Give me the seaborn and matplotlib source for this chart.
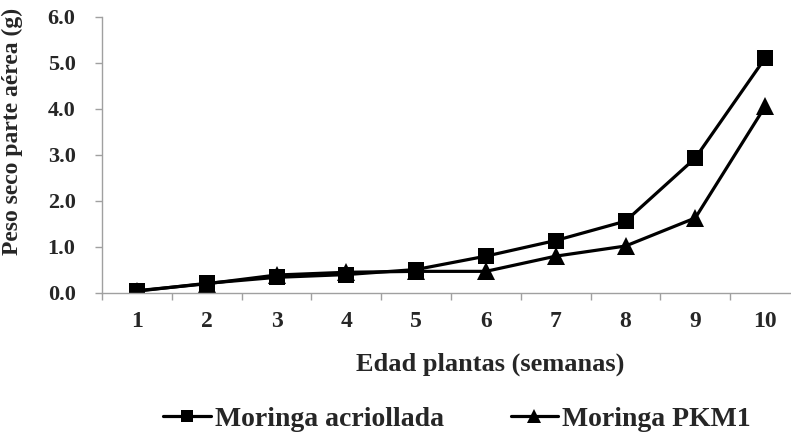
import matplotlib
matplotlib.use("Agg")
import matplotlib.pyplot as plt
import seaborn as sns
import pandas as pd
import numpy as np
from matplotlib.lines import Line2D

weeks = [1, 2, 3, 4, 5, 6, 7, 8, 9, 10]
acriollada = [0.04, 0.21, 0.34, 0.40, 0.51, 0.80, 1.14, 1.56, 2.93, 5.10]
pkm1 = [0.05, 0.20, 0.39, 0.45, 0.47, 0.47, 0.80, 1.02, 1.63, 4.05]
series_names = ["Moringa acriollada", "Moringa PKM1"]
y_ticks = [0, 1, 2, 3, 4, 5, 6]

df = pd.DataFrame({
    "week": weeks * 2,
    "peso": acriollada + pkm1,
    "serie": [series_names[0]] * len(weeks) + [series_names[1]] * len(weeks),
})

sns.set_theme(style="white")
plt.rcParams["font.family"] = ["Liberation Serif", "DejaVu Serif"]
plt.rcParams["font.weight"] = "bold"

fig = plt.figure(figsize=(7.91, 4.40), dpi=100)
L, R, B, T = 102 / 791, 800 / 791, 1 - 293 / 440, 1 - 16.7 / 440
ax = fig.add_axes([L, B, R - L, T - B])

markers = {series_names[0]: "s", series_names[1]: "^"}
sizes = {series_names[0]: 12, series_names[1]: 12.5}
# draw PKM1 first so acriollada squares sit on top
for name in [series_names[1], series_names[0]]:
    sub = df[df["serie"] == name]
    sns.lineplot(data=sub, x="week", y="peso", ax=ax, color="black",
                 linewidth=2.3, marker=markers[name], markersize=sizes[name],
                 markeredgewidth=0, legend=False)

ax.set_xlim(0.5, 10.5)
ax.set_ylim(0, 6)

gray = "#a0a0a0"
for s in ["top", "right"]:
    ax.spines[s].set_visible(False)
for s in ["left", "bottom"]:
    ax.spines[s].set_color(gray)
    ax.spines[s].set_linewidth(1.0)

ax.set_yticks(y_ticks)
ax.set_yticklabels([f"{v:.1f}" for v in y_ticks], fontsize=16, fontweight="bold")
ax.tick_params(axis="y", direction="out", length=5, width=1, color=gray, pad=14, left=True)

ax.set_xticks(weeks)
ax.set_xticklabels([str(w) for w in weeks], fontsize=17, fontweight="bold")
ax.set_xticks(np.arange(0.5, 11, 1.0), minor=True)
ax.tick_params(axis="x", which="major", length=0, pad=13, bottom=True)
ax.tick_params(axis="x", which="minor", direction="out", length=5, width=1, color=gray, bottom=True)
ax.grid(False)

ax.set_xlabel("Edad plantas (semanas)", fontsize=19, fontweight="bold")
ax.xaxis.set_label_coords((490 - 102) / 698, (293 - 353) / 276.3)
ax.set_ylabel("Peso seco parte aérea (g)", fontsize=17, fontweight="bold")
ax.yaxis.label.set_rotation_mode("default")
ax.yaxis.label.set_verticalalignment("center")
ax.yaxis.set_label_coords((12 - 102) / 698, (293 - 131) / 276.3)

handles = [
    Line2D([], [], color="black", linewidth=2.3, marker="s", markersize=9, markeredgewidth=0),
    Line2D([], [], color="black", linewidth=2.3, marker="^", markersize=10, markeredgewidth=0),
]
fig.legend(handles, series_names, loc="center", bbox_to_anchor=(457 / 791, 1 - 419 / 440),
           ncol=2, frameon=False, prop={"size": 20, "weight": "bold"},
           handlelength=1.7, handletextpad=0.15, columnspacing=2.4,
           borderpad=0, borderaxespad=0)

fig.savefig("out.png", dpi=100)
